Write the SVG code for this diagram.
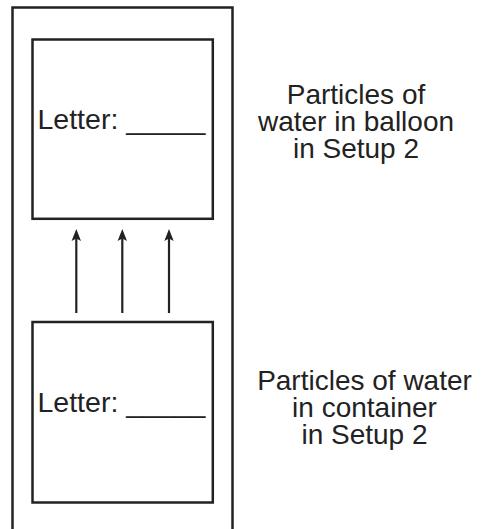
<svg xmlns="http://www.w3.org/2000/svg" width="482" height="529" viewBox="0 0 482 529">
  <style>
    .box { fill: none; stroke: #222; stroke-width: 2.5; }
    .lbl { font-family: "Liberation Sans", Arial, sans-serif; font-size: 28.5px; fill: #222; }
    .cap { font-family: "Liberation Sans", Arial, sans-serif; font-size: 28px; fill: #222; text-anchor: middle; }
    .arr { stroke: #222; stroke-width: 2.2; fill: none; marker-end: url(#head); }
  </style>
  <defs>
    <marker id="head" markerUnits="userSpaceOnUse" markerWidth="12" markerHeight="10" viewBox="0 0 12 10" refX="8" refY="5" orient="auto">
      <path d="M0 0.3 L12 5 L0 9.7 L2.5 5 Z" fill="#222"/>
    </marker>
  </defs>
  <rect width="482" height="529" fill="#fff"/>

  <!-- outer frame (runs off the bottom edge) -->
  <g id="frame">
    <rect class="box" x="12.5" y="7.5" width="220" height="540"/>
  </g>

  <!-- upper box: balloon -->
  <g id="balloon-box">
    <rect class="box" x="32.5" y="39.5" width="180.3" height="179.3"/>
    <text class="lbl" x="37.5" y="128.5">Letter: _____</text>
  </g>

  <!-- lower box: container -->
  <g id="container-box">
    <rect class="box" x="32.5" y="322" width="180.3" height="180.5"/>
    <text class="lbl" x="37.5" y="411.5">Letter: _____</text>
  </g>

  <!-- upward arrows between boxes -->
  <g id="connectors">
    <line class="arr" x1="76.3" y1="313" x2="76.3" y2="233"/>
    <line class="arr" x1="122.3" y1="313" x2="122.3" y2="233"/>
    <line class="arr" x1="169" y1="313" x2="169" y2="233"/>
  </g>

  <!-- captions -->
  <g id="caption-balloon">
    <text class="cap"><tspan x="356" y="104">Particles of</tspan><tspan x="356" y="131">water in balloon</tspan><tspan x="356" y="158">in Setup 2</tspan></text>
  </g>
  <g id="caption-container">
    <text class="cap"><tspan x="364.5" y="389.5">Particles of water</tspan><tspan x="364.5" y="416.5">in container</tspan><tspan x="364.5" y="443.5">in Setup 2</tspan></text>
  </g>
</svg>
